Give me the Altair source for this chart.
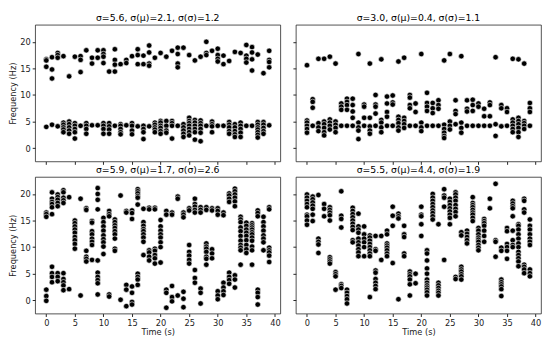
import altair as alt
import pandas as pd

TIMES = list(range(40))

TITLES = [
    "σ=5.6, σ(μ)=2.1, σ(σ)=1.2",
    "σ=3.0, σ(μ)=0.4, σ(σ)=1.1",
    "σ=5.9, σ(μ)=1.7, σ(σ)=2.6",
    "σ=5.5, σ(μ)=4.4, σ(σ)=1.9",
]

TOP_LEFT = [
    [16.7, 16.5, 15.3, 4.0], [17.1, 14.8, 13.1, 4.4], [17.9, 17.5, 17.0, 4.1],
    [17.3, 4.8, 4.4, 3.9, 3.5, 3.0], [13.5, 5.0, 4.5, 3.9, 3.3, 2.7],
    [17.2, 4.7, 4.2, 3.6, 3.0, 1.8], [17.3, 16.6, 14.3, 4.2], [18.4, 4.7, 4.2, 3.6, 2.7],
    [17.0, 15.9, 4.3], [18.4, 17.0, 4.3], [18.4, 17.7, 17.2, 16.0, 4.7, 4.2, 3.6, 2.7],
    [14.4, 4.7, 4.1, 3.5, 2.7], [18.6, 16.6, 15.7, 14.4, 4.2], [15.8, 4.5, 4.2, 3.6, 3.0, 2.6],
    [16.6, 16.0, 4.3], [17.3, 4.7, 4.2, 3.3, 2.6], [18.6, 17.5, 15.8, 4.1],
    [17.4, 15.8, 4.2, 3.6, 3.0, 1.7], [19.3, 18.0, 15.9, 15.5, 4.1],
    [17.0, 4.8, 4.4, 3.9, 3.5, 3.0], [17.9, 5.1, 4.8, 4.2, 3.8, 3.2, 2.7],
    [17.2, 5.1, 4.2, 3.3, 2.9], [18.3, 5.1, 4.7, 4.2, 1.8], [18.9, 17.7, 15.9, 15.2, 4.2],
    [18.9, 4.5, 3.9, 3.3, 2.7, 2.1], [17.5, 5.7, 5.1, 4.7, 4.2, 3.6, 3.0, 2.4],
    [16.5, 5.3, 4.8, 4.2, 3.6, 3.0, 1.6], [17.2, 5.2, 4.7, 4.2, 3.6, 2.9, 1.3],
    [20.0, 17.9, 17.5, 4.2], [18.3, 5.0, 4.5, 4.1, 3.0], [18.7, 17.5, 16.8, 16.3, 4.2],
    [17.4, 15.8, 4.2], [16.4, 4.9, 4.4, 3.9, 3.2, 2.7], [18.1, 4.5, 3.9, 3.2, 2.6, 2.1],
    [17.9, 4.8, 4.2, 3.6, 2.9, 2.1], [19.4, 17.4, 16.8, 16.1, 4.2],
    [19.0, 18.0, 16.7, 14.6, 4.2], [17.6, 4.9, 4.4, 3.9, 3.5, 3.0, 2.5, 2.0],
    [14.1, 4.9, 4.4, 3.8, 3.2, 2.7], [18.3, 16.6, 16.2, 15.2, 4.3],
]

TOP_RIGHT = [
    [15.6, 5.2, 4.8, 4.2, 3.6, 2.9], [9.2, 8.7, 7.6, 4.2], [16.8, 4.7, 3.9, 3.2],
    [16.8, 5.0, 4.5, 3.8, 3.0, 2.4], [17.2, 5.4, 4.8, 4.2, 3.5], [15.9, 5.0, 4.4, 3.8, 3.0],
    [8.4, 7.8, 7.2, 4.2], [9.3, 8.7, 8.1, 7.2, 4.2], [9.3, 8.1, 6.9, 5.7, 4.2],
    [17.7, 4.8, 3.9, 3.3, 1.7], [8.2, 7.8, 5.7, 4.2], [15.9, 5.7, 4.1, 3.3, 2.7],
    [10.0, 8.2, 7.8, 6.5, 4.2], [16.7, 5.3, 4.8, 3.9, 3.0], [9.7, 8.4, 6.8, 5.9, 4.2],
    [9.9, 8.6, 8.2, 4.2], [16.3, 5.9, 5.3, 4.7, 3.9, 3.3], [17.0, 5.7, 5.1, 4.5, 3.8],
    [10.0, 9.5, 8.1, 7.5, 4.2], [8.4, 6.8, 4.2], [17.7, 4.8, 3.9, 3.2],
    [10.4, 8.5, 7.8, 7.0, 4.2], [8.5, 7.5, 6.6, 4.2], [9.0, 8.1, 7.4, 4.2],
    [16.5, 4.4, 3.6, 2.9, 2.3, 1.9], [17.7, 5.0, 4.2, 3.5], [9.0, 7.0, 6.4, 4.5],
    [17.3, 4.8, 3.8, 2.9], [9.0, 7.4, 6.9, 4.2], [9.1, 8.1, 7.0, 4.2], [8.4, 7.8, 4.2],
    [7.4, 6.0, 4.2], [8.6, 8.1, 6.0, 4.2], [17.1, 4.5, 2.3], [8.1, 7.5, 4.1],
    [7.5, 6.8, 4.2], [16.8, 5.4, 4.8, 4.2, 3.6, 3.0], [16.7, 5.7, 5.1, 4.5, 3.8, 3.0, 2.1],
    [15.9, 5.1, 4.7, 4.2, 3.6], [8.5, 7.5, 6.8, 4.2],
]

BOTTOM_LEFT = [
    [16.5, 16.2, 15.7, 2.0, 0.8, -0.1], [20.3, 19.1, 18.5, 18.1, 17.5, 16.2, 6.3, 5.1, 4.4, 3.4],
    [19.9, 19.4, 18.9, 18.3, 17.7, 5.1, 4.4, 3.6],
    [20.7, 20.3, 19.3, 18.8, 18.3, 5.1, 4.0, 3.4, 2.8, 1.9], [19.4, 2.1],
    [15.0, 14.5, 13.9, 13.3, 12.7, 11.9, 11.3, 10.6, 9.7], [19.1, 0.9],
    [17.3, 17.0, 9.3, 8.2, 7.8, 7.3], [14.9, 14.6, 13.0, 12.4, 11.6, 11.0, 10.4, 7.6],
    [21.1, 20.0, 18.9, 17.1, 7.5, 5.2, 4.4, 3.8, 3.2, 1.1],
    [15.5, 14.7, 13.9, 13.1, 12.2, 11.5, 10.9, 10.1, 8.7], [16.8, 16.2, 15.8, 1.1, 0.7],
    [15.2, 14.7, 14.1, 13.6, 13.0, 12.4, 11.6, 9.7, 9.3], [19.7, 0.1],
    [16.8, 16.5, 2.9, 2.0, -1.1], [16.9, 16.4, 15.3, 2.6, 1.4, -0.3, -0.8],
    [20.9, 20.5, 20.1, 19.6, 19.3, 18.0, 5.0, 4.4, 3.9, 2.9],
    [17.2, 14.7, 14.0, 13.4, 13.0, 12.4, 11.8, 11.0, 8.5], [17.4, 17.1, 9.4, 9.0, 8.2, 7.5],
    [17.4, 17.1, 9.7, 9.3, 8.5, 7.9, 6.9], [15.1, 13.9, 13.1, 12.4, 11.8, 10.9, 10.0, 7.1],
    [16.8, 16.1, 2.0, 1.4, -1.4], [16.5, 16.1, 2.7, 0.6, -0.2], [19.5, 19.1, 0.9],
    [16.5, 16.1, 15.6, 1.6, 0.3, -1.3], [17.3, 16.9, 10.4, 9.1, 8.4, 7.6, 6.9],
    [19.1, 18.1, 17.6, 17.0, 16.5, 5.7, 4.2, 3.3], [17.5, 17.0, 16.5, 2.2, 1.4, -0.6],
    [17.5, 17.0, 10.7, 10.1, 9.7, 9.1, 8.2, 7.8, 6.7], [17.3, 16.9, 9.6, 8.8, 7.9],
    [17.3, 16.8, 16.1, 1.7, 0.9, 0.2], [16.5, 16.0, 3.3, 2.4, 1.7, 1.0],
    [20.1, 19.7, 19.1, 18.5, 5.2, 4.4, 3.8, 3.1], [21.0, 20.5, 19.9, 19.3, 18.6, 17.7, 4.7, 3.9, 2.4],
    [15.7, 15.2, 14.7, 13.7, 13.0, 12.1, 11.2, 10.4, 9.9, 9.4, 6.7],
    [14.6, 14.0, 13.3, 12.7, 12.1, 11.3, 10.4, 9.6, 8.9],
    [14.5, 14.1, 13.7, 13.3, 12.8, 12.4, 11.8, 11.2, 10.1, 9.4, 6.7],
    [16.9, 16.4, 15.8, 2.0, 1.4, 0.6, -0.8], [15.7, 14.7, 13.9, 13.1, 12.2, 11.6, 10.9, 9.4],
    [17.5, 17.1, 9.9, 9.4, 9.0, 8.4, 7.2],
]

BOTTOM_RIGHT = [
    [19.9, 19.3, 18.7, 18.1, 17.5, 16.1, 15.8, 15.0, 14.2], [19.5, 19.0, 18.4, 17.8, 17.2, 16.1, 14.9],
    [19.8, 11.6, 11.0, 10.5, 8.9], [18.1, 17.2, 15.8], [17.5, 17.0, 16.5, 16.0, 15.0, 8.1, 7.7, 7.3, 6.9],
    [5.3, 4.9, 4.5, 2.0], [20.5, 15.9, 15.3, 13.7, 3.0, 2.7, 2.3], [2.0, 1.4, 0.8, 0.2, -0.6],
    [17.4, 16.8, 16.2, 15.6, 15.0, 14.4, 13.8, 13.2, 11.3, 10.9],
    [16.3, 13.9, 13.3, 12.7, 11.6, 10.9, 10.3, 9.6, 9.0, 8.3], [13.9, 12.4, 11.6, 10.9, 10.0, 8.3],
    [12.2, 11.8, 11.2, 10.6, 10.0, 9.4, 8.8, 8.3, 0.6], [12.1, 9.6, 9.3, 5.6, 5.2, 4.0, 3.3, 2.7, 2.1],
    [12.1, 7.6], [13.1, 12.4, 10.7, 10.3, 9.9, 9.4, 8.8, 8.3], [17.6, 15.9, 14.0, 7.0],
    [16.3, 15.8, 15.4, 0.2], [14.0, 12.4, 11.9, 8.8, 8.3], [5.4, 4.9, 4.5, 3.9, 3.0, 0.9], [5.0, 3.2],
    [17.6, 16.1, 15.8, 14.3, 12.1], [9.4, 8.8, 7.5, 6.0, 5.0, 3.9, 3.3, 2.8, 2.4, 2.0, 1.5, 0.9],
    [20.0, 19.3, 18.7, 18.1, 17.5, 16.9, 16.4, 15.8, 15.2], [14.3, 3.3, 2.8, 2.3, 1.8, 1.4, 0.9],
    [20.9, 19.7, 19.3, 17.6, 7.6], [19.1, 18.5, 17.9, 17.3, 16.7, 16.1, 15.5, 14.3],
    [20.3, 19.9, 19.3, 18.7, 17.9, 17.2, 16.6, 15.8, 4.4, 4.0], [12.8, 12.2, 6.3, 5.8, 5.4, 4.9, 4.5, 3.9],
    [13.1, 12.5, 11.9, 11.3, 10.7], [19.4, 18.3, 17.9, 17.5, 17.0, 16.5, 16.1, 15.5, 14.9],
    [13.6, 13.1, 12.4, 11.8, 11.4, 11.0, 10.4, 9.9, 9.4], [15.3, 14.9, 14.5, 14.0, 13.1, 12.1, 11.0],
    [19.1, 17.3], [21.9, 11.3, 11.0, 8.2], [9.9, 9.3, 3.9, 3.4, 3.0, 2.6, 2.1, 0.8],
    [13.6, 13.0, 10.6, 10.0, 9.3, 7.8], [18.7, 18.2, 17.7, 17.3, 15.8, 13.1, 11.3, 10.4, 10.0],
    [14.3, 14.0, 13.3, 12.4, 11.6, 10.7, 10.0, 9.1, 8.5, 7.9, 7.3, 6.4],
    [19.1, 18.7, 17.1, 16.5, 6.7, 6.3, 5.8, 5.1],
    [15.2, 14.0, 13.3, 12.4, 11.6, 11.0, 10.4, 5.8, 5.1, 4.5],
]

X_TICKS = [0, 5, 10, 15, 20, 25, 30, 35, 40]
Y_TICKS = [0, 5, 10, 15, 20]
FONT = "DejaVu Sans"


def to_frame(series):
    rows = []
    for t, vals in zip(TIMES, series):
        for v in vals:
            rows.append({"time": t, "freq": v})
    return pd.DataFrame(rows)


def panel(series, title, show_x_labels, show_y_labels):
    x_axis = alt.Axis(
        values=X_TICKS, labels=show_x_labels, title="Time (s)" if show_x_labels else None,
        grid=False, domain=False, tickSize=3, tickColor="#222", labelPadding=2,
        labelFontSize=8.5, labelFont=FONT, labelColor="#222", titleFontSize=8.5,
        titleFont=FONT, titleFontWeight="normal", titleColor="#222", titlePadding=1,
    )
    y_axis = alt.Axis(
        values=Y_TICKS, labels=show_y_labels, title="Frequency (Hz)" if show_y_labels else None,
        grid=False, domain=False, tickSize=3, tickColor="#222", labelPadding=2,
        labelFontSize=8.5, labelFont=FONT, labelColor="#222", titleFontSize=8.5,
        titleFont=FONT, titleFontWeight="normal", titleColor="#222", titlePadding=2,
    )
    return (
        alt.Chart(to_frame(series))
        .mark_circle(color="black", opacity=1, stroke="white", strokeWidth=0.6, size=32)
        .encode(
            x=alt.X("time:Q", scale=alt.Scale(domain=[-1.95, 40.95], nice=False, zero=False), axis=x_axis),
            y=alt.Y("freq:Q", scale=alt.Scale(domain=[-2.5, 23.2], nice=False, zero=False), axis=y_axis),
        )
        .properties(
            width=253, height=141,
            title=alt.TitleParams(title, fontSize=9.6, font=FONT, fontWeight="normal", color="black", offset=2),
        )
    )


tl = panel(TOP_LEFT, TITLES[0], False, True)
tr = panel(TOP_RIGHT, TITLES[1], False, False)
bl = panel(BOTTOM_LEFT, TITLES[2], True, True)
br = panel(BOTTOM_RIGHT, TITLES[3], True, False)

chart = (
    alt.vconcat(
        alt.hconcat(tl, tr, spacing=11),
        alt.hconcat(bl, br, spacing=11),
        spacing=0,
    )
    .properties(padding=0, background="white")
    .configure_view(stroke="#222", strokeWidth=0.8)
)

chart.save("out.html", embed_options={"renderer": "svg", "actions": False})
